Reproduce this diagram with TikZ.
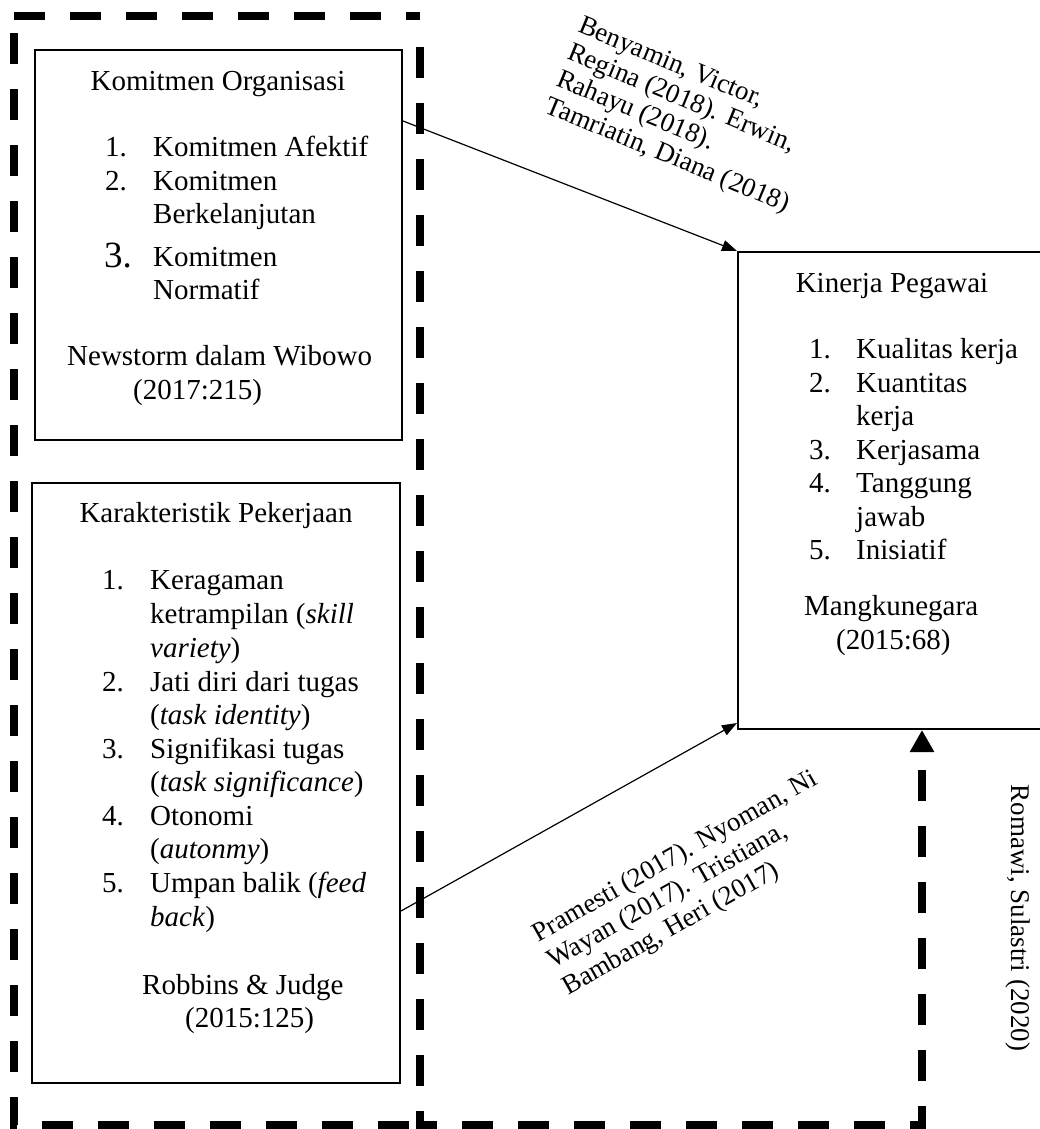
\documentclass[tikz,border=0pt]{standalone}
\usepackage{fontspec}
\setmainfont{Liberation Serif}
\usetikzlibrary{arrows.meta,calc}
\begin{document}
\begin{tikzpicture}[x=1pt,y=-1pt,
  box/.style={draw,line width=2pt,inner sep=0pt},
  txt/.style={inner sep=0pt,anchor=base west,font=\fontsize{29}{33.5}\selectfont},
  ttl/.style={inner sep=0pt,anchor=base,font=\fontsize{29}{33.5}\selectfont},
  lbl/.style={inner sep=0pt,align=left},
  thinarrow/.style={line width=1.2pt,-{Triangle[length=15pt,width=11pt]}},
  bigdash/.style={line width=7.5pt,dash pattern=on 31pt off 25pt},
]
\useasboundingbox (0,0) rectangle (1039,1129);

% boxes
\node[box,minimum width=367pt,minimum height=390pt] (komit) at (218.5,245) {};
\node[box,minimum width=368pt,minimum height=600pt] (karak) at (216,783) {};
\node[box,minimum width=310pt,minimum height=477pt] (kinerja) at (893,490.5) {};

% Komitmen Organisasi
\node[ttl] (kt) at (218,91) {Komitmen Organisasi};
\node[txt] (kn1) at (105,157) {1.};
\node[txt] (ki1) at (153,157) {Komitmen Afektif};
\node[txt] (kn2) at (105,190) {2.};
\node[txt] (ki2) at (153,190) {Komitmen};
\node[txt] (ki2b) at (153,223) {Berkelanjutan};
\node[inner sep=0pt,anchor=base west,font=\fontsize{37}{37}\selectfont] (kn3) at (104,267) {3.};
\node[txt] (ki3) at (153,266) {Komitmen};
\node[txt] (ki3b) at (153,299) {Normatif};
\node[txt] (kc1) at (67,365) {Newstorm dalam Wibowo};
\node[txt] (kc2) at (133,399) {(2017:215)};

% Karakteristik Pekerjaan
\node[ttl] (pt) at (216,522) {Karakteristik Pekerjaan};
\node[txt] (pn1) at (102,589) {1.};
\node[txt] (pi1) at (150,589) {Keragaman};
\node[txt] (pi1b) at (150,623) {ketrampilan (\textit{skill}};
\node[txt] (pi1c) at (150,657) {\textit{variety})};
\node[txt] (pn2) at (102,691) {2.};
\node[txt] (pi2) at (150,691) {Jati diri dari tugas};
\node[txt] (pi2b) at (150,724) {(\textit{task identity})};
\node[txt] (pn3) at (102,758) {3.};
\node[txt] (pi3) at (150,758) {Signifikasi tugas};
\node[txt] (pi3b) at (150,791) {(\textit{task significance})};
\node[txt] (pn4) at (102,825) {4.};
\node[txt] (pi4) at (150,825) {Otonomi};
\node[txt] (pi4b) at (150,858) {(\textit{autonmy})};
\node[txt] (pn5) at (102,892) {5.};
\node[txt] (pi5) at (150,892) {Umpan balik (\textit{feed}};
\node[txt] (pi5b) at (150,926) {\textit{back})};
\node[txt] (pc1) at (142,994) {Robbins \& Judge};
\node[txt] (pc2) at (185,1027) {(2015:125)};

% Kinerja Pegawai
\node[ttl] (gt) at (892,292) {Kinerja Pegawai};
\node[txt] (gn1) at (809,358) {1.};
\node[txt] (gi1) at (856,358) {Kualitas kerja};
\node[txt] (gn2) at (809,392) {2.};
\node[txt] (gi2) at (856,392) {Kuantitas};
\node[txt] (gi2b) at (856,425) {kerja};
\node[txt] (gn3) at (809,459) {3.};
\node[txt] (gi3) at (856,459) {Kerjasama};
\node[txt] (gn4) at (809,492) {4.};
\node[txt] (gi4) at (856,492) {Tanggung};
\node[txt] (gi4b) at (856,526) {jawab};
\node[txt] (gn5) at (809,559) {5.};
\node[txt] (gi5) at (856,559) {Inisiatif};
\node[txt] (gc1) at (804,615) {Mangkunegara};
\node[txt] (gc2) at (836,649) {(2015:68)};

% dashed frame
\coordinate (tl) at (14,16);
\coordinate (tr) at (420,16);
\coordinate (ltop) at (14,33);
\coordinate (lbot) at (14,1125);
\coordinate (rtop) at (420,47);
\coordinate (rbot) at (420,1125);
\coordinate (brc) at (922,1125);
\draw[bigdash] (tl) -- (tr);
\draw[bigdash] (ltop) -- (lbot) -- (rbot);
\draw[bigdash,-{Triangle[length=22pt,width=23pt]}] (rtop) -- (rbot) -- (brc) -- (brc |- kinerja.south);

% arrows
\draw[thinarrow] ($(komit.north east)+(0,72)$) -- (kinerja.north west);
\draw[thinarrow] ($(karak.north east)+(0,429)$) -- ($(kinerja.south west)+(0,-7)$);

% labels
\node[lbl,font=\fontsize{27}{29}\selectfont,rotate=-22.5,anchor=north west] (lab1) at (584,15) {Benyamin, Victor,\\Regina (2018). Erwin,\\Rahayu (2018).\\Tamriatin, Diana (2018)};
\node[lbl,font=\fontsize{27}{30.5}\selectfont,rotate=29.5,anchor=north west] (lab2) at (529,926) {Pramesti (2017). Nyoman, Ni\\Wayan (2017). Tristiana,\\Bambang, Heri (2017)};
\node[lbl,font=\fontsize{27}{30}\selectfont,rotate=-90,anchor=base] (lab3) at (1011,918) {Romawi, Sulastri (2020)};
\end{tikzpicture}
\end{document}
